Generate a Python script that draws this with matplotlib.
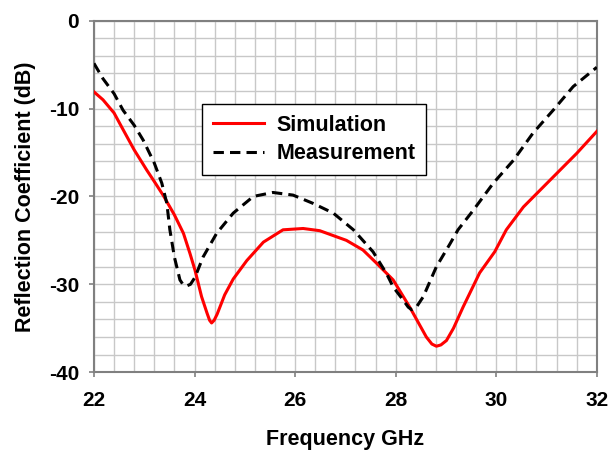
import matplotlib
matplotlib.use("Agg")
import matplotlib.pyplot as plt
from matplotlib.ticker import MultipleLocator

freq_sim = [22.0, 22.18, 22.4, 22.58, 22.8, 23.05, 23.2, 23.38, 23.6, 23.78, 23.91, 24.01,
            24.14, 24.25, 24.3, 24.34, 24.39, 24.45, 24.6, 24.77, 25.04, 25.37, 25.76, 26.16,
            26.49, 27.02, 27.35, 27.62, 27.95, 28.28, 28.61, 28.72, 28.81, 28.9, 29.01, 29.15,
            29.34, 29.67, 29.97, 30.2, 30.54, 30.87, 31.2, 31.6, 32.0]
s_sim = [-8.1, -9.0, -10.5, -12.4, -14.7, -17.0, -18.3, -19.9, -22.1, -24.2, -26.5, -28.4,
         -31.4, -33.3, -34.1, -34.4, -34.1, -33.4, -31.2, -29.4, -27.3, -25.2, -23.8, -23.65,
         -23.9, -25.0, -26.1, -27.6, -29.5, -32.6, -36.0, -36.8, -37.05, -36.9, -36.4, -35.0,
         -32.6, -28.7, -26.3, -23.8, -21.2, -19.3, -17.4, -15.1, -12.6]

freq_meas = [22.0, 22.18, 22.4, 22.58, 22.8, 22.98, 23.2, 23.35, 23.45, 23.51, 23.6, 23.71,
             23.78, 23.84, 23.92, 24.01, 24.17, 24.44, 24.77, 25.17, 25.56, 25.96, 26.36,
             26.76, 27.16, 27.55, 27.82, 27.95, 28.15, 28.25, 28.32, 28.4, 28.55, 28.81, 29.08,
             29.24, 29.54, 29.94, 30.34, 30.73, 31.13, 31.53, 32.0]
s_meas = [-4.85, -6.6, -8.3, -10.2, -11.9, -13.6, -16.2, -18.5, -20.8, -23.8, -26.9, -29.5,
          -30.1, -30.2, -30.0, -29.2, -26.9, -24.2, -21.9, -20.0, -19.55, -19.85, -20.8,
          -21.9, -23.8, -26.3, -28.8, -30.3, -31.8, -32.6, -32.9, -32.7, -31.4, -28.0, -25.4,
          -23.8, -21.6, -18.5, -15.9, -12.8, -10.2, -7.5, -5.3]

x_ticks = [22, 24, 26, 28, 30, 32]
y_ticks = [0, -10, -20, -30, -40]

plt.rcParams['font.family'] = ['Liberation Sans', 'DejaVu Sans']
plt.rcParams['font.weight'] = 'bold'
plt.rcParams['axes.unicode_minus'] = False

fig = plt.figure(figsize=(6.14, 4.5), dpi=100)
ax = fig.add_axes([0.153, 0.173, 0.819, 0.781])

ax.plot(freq_sim, s_sim, color='#ff0000', lw=2.2, label='Simulation', zorder=3)
ax.plot(freq_meas, s_meas, color='black', lw=2.2, ls=(0, (3.4, 2.0)), label='Measurement', zorder=4)

ax.set_xlim(22, 32)
ax.set_ylim(-40, 0)
ax.set_xticks(x_ticks)
ax.set_yticks(y_ticks)
ax.xaxis.set_minor_locator(MultipleLocator(0.4))
ax.yaxis.set_minor_locator(MultipleLocator(2))
ax.grid(which='both', color='#c8c8c8', lw=1.0, zorder=0)
ax.set_axisbelow(True)
ax.tick_params(which='major', direction='out', length=3.6, width=1.2, color='#808080',
               labelsize=15)
ax.tick_params(axis='y', pad=7)
ax.tick_params(axis='x', pad=10)
ax.tick_params(which='minor', length=0)
for lab in ax.get_xticklabels() + ax.get_yticklabels():
    lab.set_fontweight('bold')
for sp in ax.spines.values():
    sp.set_color('#808080')
    sp.set_linewidth(1.5)

ax.set_xlabel('Frequency GHz', fontsize=15.5, fontweight='bold', labelpad=14)
ax.set_ylabel('Reflection Coefficient (dB)', fontsize=15.5, fontweight='bold', labelpad=9)

leg = ax.legend(loc='upper left', bbox_to_anchor=(0.215, 0.763), fontsize=15.5,
                frameon=True, fancybox=False, edgecolor='black', framealpha=1,
                handlelength=2.4, borderpad=0.5, labelspacing=0.35, handletextpad=0.55,
                borderaxespad=0)
leg.get_frame().set_linewidth(1.0)
for t in leg.get_texts():
    t.set_fontweight('bold')

fig.savefig('out.png', dpi=100)
